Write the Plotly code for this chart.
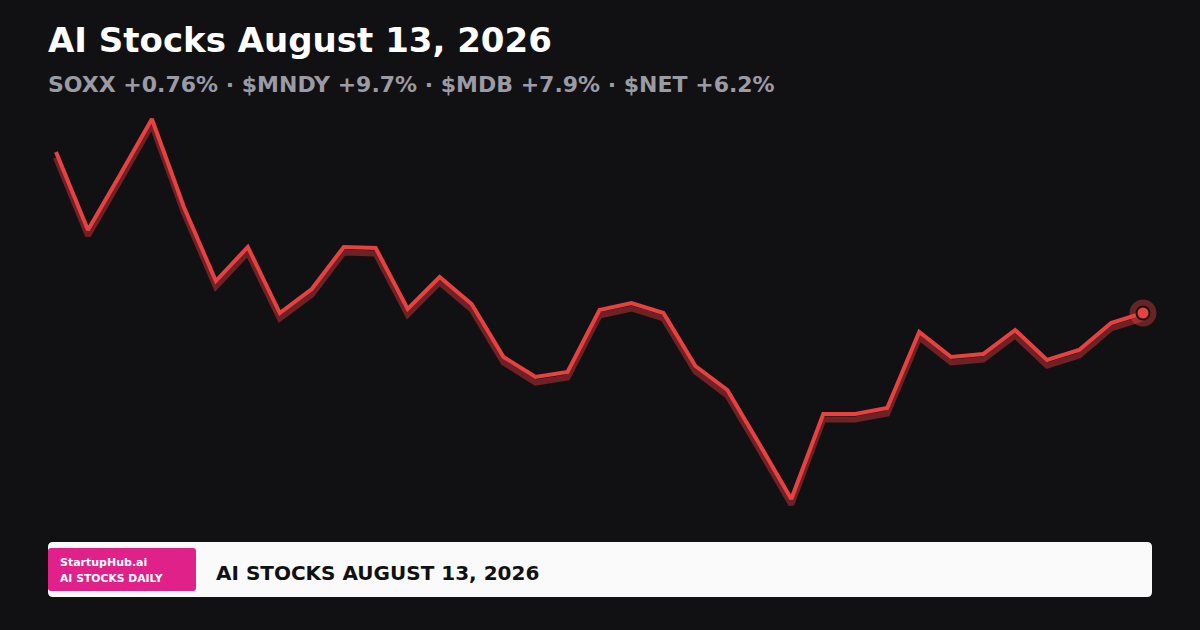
import plotly.graph_objects as go

# --- datos ---
sessions = list(range(35))
price = [47.8, 40.0, 45.5, 51.1, 42.3, 34.9, 38.3, 31.7, 34.1, 38.3,
         38.2, 32.1, 35.3, 32.6, 27.3, 25.3, 25.8, 32.0, 32.7, 31.7,
         26.4, 24.0, 18.6, 13.1, 21.6, 21.6, 22.2, 29.8, 27.3, 27.6,
         30.0, 27.0, 28.0, 30.7, 31.7]

title = "AI Stocks August 13, 2026"
subtitle = "SOXX +0.76% · $MNDY +9.7% · $MDB +7.9% · $NET +6.2%"
brand = "StartupHub.ai"
brand_sub = "AI STOCKS DAILY"
footer = "AI STOCKS AUGUST 13, 2026"

W, H = 1200, 630
BG = "#111113"
RED = "#e8413f"
SHADOW = "#6e2225"

# eje x: índice 0 -> 56px, índice 34 -> 1143px
step = (1143 - 56) / 34
xr = [-56 / step, (W - 56) / step]
yr = [0, 63]
shift = 0.55  # desplazamiento de la sombra (unidades de y)

fig = go.Figure()

# sombra (mismos datos, eje y desplazado; capa inferior)
fig.add_trace(go.Scatter(
    x=sessions, y=price, mode="lines", yaxis="y",
    line=dict(color=SHADOW, width=6), hoverinfo="skip"))

# línea principal (eje y2 superpuesto, capa superior)
fig.add_trace(go.Scatter(
    x=sessions, y=price, mode="lines", yaxis="y2",
    line=dict(color=RED, width=4)))

# halo + punto final
fig.add_trace(go.Scatter(
    x=[sessions[-1]], y=[price[-1]], mode="markers", yaxis="y2",
    marker=dict(size=27, color="rgba(232,65,63,0.4)", line=dict(width=0))))
fig.add_trace(go.Scatter(
    x=[sessions[-1]], y=[price[-1]], mode="markers", yaxis="y2",
    marker=dict(size=13, color=RED, line=dict(color="#111111", width=2))))


def py(px):
    return 1 - px / H


def rounded(x0, y0, x1, y1, r):
    # rectángulo redondeado en píxeles -> path en coordenadas paper
    fx = lambda v: v / W
    fy = lambda v: 1 - v / H
    return (f"M {fx(x0 + r)} {fy(y0)} L {fx(x1 - r)} {fy(y0)} "
            f"Q {fx(x1)} {fy(y0)} {fx(x1)} {fy(y0 + r)} "
            f"L {fx(x1)} {fy(y1 - r)} Q {fx(x1)} {fy(y1)} {fx(x1 - r)} {fy(y1)} "
            f"L {fx(x0 + r)} {fy(y1)} Q {fx(x0)} {fy(y1)} {fx(x0)} {fy(y1 - r)} "
            f"L {fx(x0)} {fy(y0 + r)} Q {fx(x0)} {fy(y0)} {fx(x0 + r)} {fy(y0)} Z")


shapes = [
    dict(type="path", xref="paper", yref="paper", path=rounded(48, 542, 1152, 597, 5),
         fillcolor="#fafafa", line=dict(width=0), layer="above"),
    dict(type="path", xref="paper", yref="paper", path=rounded(48, 548, 196, 591, 3),
         fillcolor="#e0218a", line=dict(width=0), layer="above"),
]


def label(text, xpx, ypx, size, color):
    # las anotaciones añaden ~2px de relleno a la izquierda
    return dict(text=f"<b>{text}</b>", x=(xpx - 2) / W, y=py(ypx),
                xref="paper", yref="paper", xanchor="left", yanchor="middle",
                showarrow=False, font=dict(family="DejaVu Sans", size=size, color=color))


annotations = [
    label(title, 48, 40, 34, "#ffffff"),
    label(subtitle, 48, 85, 22, "#9b9ba4"),
    label(brand, 60, 562, 11, "#ffffff"),
    label(brand_sub, 60, 578, 10.8, "#ffffff"),
    label(footer, 216, 573, 20, "#111111"),
]

fig.update_layout(
    width=W, height=H,
    margin=dict(l=0, r=0, t=0, b=0),
    paper_bgcolor=BG, plot_bgcolor=BG,
    showlegend=False,
    xaxis=dict(range=xr, visible=False, fixedrange=True),
    yaxis=dict(range=[yr[0] + shift, yr[1] + shift], visible=False, fixedrange=True),
    yaxis2=dict(range=yr, overlaying="y", visible=False, fixedrange=True),
    shapes=shapes,
    annotations=annotations,
)

fig.write_html(
    "out.html",
    config={"displayModeBar": False},
    post_script="document.body.style.margin='0';document.body.style.background='#111113';",
)
